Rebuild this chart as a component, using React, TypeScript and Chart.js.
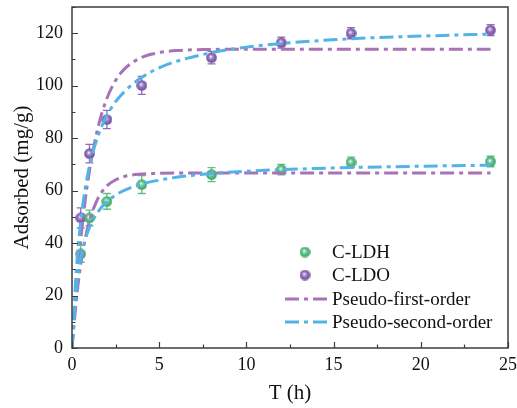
import React, { useEffect, useRef } from 'react';
import { Chart, registerables } from 'chart.js';

Chart.register(...registerables);

// Experimental data
const times = [0.5, 1, 2, 4, 8, 12, 16, 24];
const ldhValues = [35.9, 49.6, 55.9, 62.3, 66.1, 68.0, 70.8, 71.1];
const ldhErrors = [3.2, 3.0, 3.0, 3.4, 2.7, 2.0, 2.0, 2.0];
const ldoValues = [49.6, 74.1, 87.1, 100.1, 110.7, 116.4, 120.0, 121.2];
const ldoErrors = [3.8, 3.5, 3.5, 3.4, 2.4, 2.1, 2.1, 2.1];

// Fitted curves
const fitTimes = [0, 0.25, 0.5, 0.75, 1, 1.5, 2, 2.5, 3, 4, 5, 6, 8, 10, 12, 16, 20, 24];
const pfoLDO = [0, 22.9, 41.2, 55.9, 67.5, 84.4, 95.1, 102.0, 106.3, 110.8, 112.6, 113.4, 113.8, 113.9, 113.9, 113.9, 113.9, 113.9];
const pfoLDH = [0, 18.5, 31.9, 41.5, 48.5, 57.2, 61.8, 64.1, 65.4, 66.3, 66.6, 66.7, 66.7, 66.7, 66.7, 66.7, 66.7, 66.7];
const psoLDO = [0, 30.0, 48.2, 60.5, 69.3, 81.1, 88.6, 93.9, 97.7, 103.2, 106.8, 109.3, 112.6, 114.7, 116.1, 117.9, 118.9, 119.7];
const psoLDH = [0, 22.3, 33.9, 41.1, 45.9, 52.0, 55.8, 58.3, 60.1, 62.5, 64.0, 65.1, 66.5, 67.4, 68.0, 68.8, 69.3, 69.7];

const xTicks = [0, 5, 10, 15, 20, 25];
const yTicks = [0, 20, 40, 60, 80, 100, 120];

const legendLabels = ['C-LDH', 'C-LDO', 'Pseudo-first-order', 'Pseudo-second-order'];

const GREEN = '#5cc088';
const GREEN_LIGHT = '#a8e0bf';
const GREEN_DARK = '#3f9f69';
const PURPLE = '#8f6dba';
const PURPLE_LIGHT = '#c4aedd';
const PURPLE_DARK = '#6c4e9a';
const PFO_COLOR = '#a873b6';
const PSO_COLOR = '#52b3e6';
const FRAME = '#3c3c3c';
const DASH = [14, 5, 4, 5];
const FONT = "'Liberation Serif', 'Times New Roman', serif";

function sphere(base: string, light: string, dark: string, size = 11): HTMLCanvasElement {
  const c = document.createElement('canvas');
  c.width = size;
  c.height = size;
  const g = c.getContext('2d')!;
  const r = size / 2;
  const grad = g.createRadialGradient(r * 0.85, r * 0.8, 0.2, r, r, r);
  grad.addColorStop(0, '#ffffff');
  grad.addColorStop(0.18, light);
  grad.addColorStop(0.5, base);
  grad.addColorStop(1, dark);
  g.fillStyle = grad;
  g.beginPath();
  g.arc(r, r, r - 0.2, 0, Math.PI * 2);
  g.fill();
  return c;
}

function toXY(xs: number[], ys: number[]) {
  return xs.map((x, i) => ({ x, y: ys[i] }));
}

export default function App() {
  const ref = useRef<HTMLCanvasElement | null>(null);

  useEffect(() => {
    document.body.style.margin = '0';
    const canvas = ref.current;
    if (!canvas) return;
    const greenBall = sphere(GREEN, GREEN_LIGHT, GREEN_DARK);
    const purpleBall = sphere(PURPLE, PURPLE_LIGHT, PURPLE_DARK);

    const errorBars = {
      id: 'errorBars',
      beforeDatasetsDraw(chart: any) {
        const ctx = chart.ctx;
        const xs = chart.scales.x;
        const ys = chart.scales.y;
        const sets = [
          { v: ldhValues, e: ldhErrors, c: GREEN },
          { v: ldoValues, e: ldoErrors, c: PURPLE },
        ];
        ctx.save();
        ctx.lineWidth = 1.3;
        sets.forEach((s) => {
          ctx.strokeStyle = s.c;
          times.forEach((t, i) => {
            const px = xs.getPixelForValue(t);
            const y1 = ys.getPixelForValue(s.v[i] - s.e[i]);
            const y2 = ys.getPixelForValue(s.v[i] + s.e[i]);
            ctx.beginPath();
            ctx.moveTo(px, y1);
            ctx.lineTo(px, y2);
            ctx.moveTo(px - 4, y1);
            ctx.lineTo(px + 4, y1);
            ctx.moveTo(px - 4, y2);
            ctx.lineTo(px + 4, y2);
            ctx.stroke();
          });
        });
        ctx.restore();
      },
    };

    const frameAndLegend = {
      id: 'frameAndLegend',
      afterDraw(chart: any) {
        const ctx = chart.ctx;
        const a = chart.chartArea;
        const xs = chart.scales.x;
        const ys = chart.scales.y;
        ctx.save();
        ctx.strokeStyle = FRAME;
        ctx.lineWidth = 1.5;
        ctx.strokeRect(a.left, a.top, a.right - a.left, a.bottom - a.top);
        ctx.lineWidth = 1.2;
        ctx.beginPath();
        for (let v = 0; v <= 25.001; v += 2.5) {
          const px = Math.round(xs.getPixelForValue(v)) + 0.5;
          const major = Math.abs(v / 5 - Math.round(v / 5)) < 1e-6;
          const len = major ? 6 : 3.5;
          ctx.moveTo(px, a.bottom);
          ctx.lineTo(px, a.bottom - len);
        }
        for (let v = 0; v <= 130.001; v += 10) {
          const py = Math.round(ys.getPixelForValue(v)) + 0.5;
          const major = v % 20 === 0;
          const len = major ? 6 : 3.5;
          ctx.moveTo(a.left, py);
          ctx.lineTo(a.left + len, py);
        }
        ctx.stroke();

        // legend
        const rows = [252, 275, 299, 322];
        const textX = 332;
        ctx.font = `19px ${FONT}`;
        ctx.fillStyle = '#111';
        ctx.textAlign = 'left';
        ctx.textBaseline = 'middle';
        ctx.drawImage(greenBall, 305 - 5.5, rows[0] - 5.5);
        ctx.drawImage(purpleBall, 305 - 5.5, rows[1] - 5.5);
        [PFO_COLOR, PSO_COLOR].forEach((col, i) => {
          ctx.strokeStyle = col;
          ctx.lineWidth = 3;
          ctx.setLineDash(DASH);
          ctx.beginPath();
          ctx.moveTo(285, rows[2 + i]);
          ctx.lineTo(327, rows[2 + i]);
          ctx.stroke();
        });
        ctx.setLineDash([]);
        legendLabels.forEach((label, i) => {
          ctx.fillText(label, textX, rows[i] + 1);
        });
        ctx.restore();
      },
    };

    const lineSet = (label: string, ys: number[], color: string, order: number) => ({
      label,
      data: toXY(fitTimes, ys),
      showLine: true,
      borderColor: color,
      borderWidth: 3,
      borderDash: DASH,
      pointRadius: 0,
      cubicInterpolationMode: 'monotone',
      order,
    });

    const chart = new Chart(canvas, {
      type: 'scatter',
      data: {
        datasets: [
          {
            label: legendLabels[0],
            data: toXY(times, ldhValues),
            pointStyle: greenBall as any,
            showLine: false,
            order: 2,
          },
          {
            label: legendLabels[1],
            data: toXY(times, ldoValues),
            pointStyle: purpleBall as any,
            showLine: false,
            order: 2,
          },
          lineSet(legendLabels[2] + ' LDH', pfoLDH, PFO_COLOR, 1),
          lineSet(legendLabels[2] + ' LDO', pfoLDO, PFO_COLOR, 1),
          lineSet(legendLabels[3] + ' LDH', psoLDH, PSO_COLOR, 0),
          lineSet(legendLabels[3] + ' LDO', psoLDO, PSO_COLOR, 0),
        ],
      },
      options: {
        animation: false,
        responsive: false,
        layout: { padding: { top: 7, right: 9, left: 0, bottom: 0 } },
        plugins: {
          legend: { display: false },
          tooltip: { enabled: false },
        },
        scales: {
          x: {
            type: 'linear',
            min: 0,
            max: 25,
            afterFit: (s: any) => {
              s.height = 60;
              s.paddingLeft = 0;
              s.paddingRight = 0;
              s.paddingTop = 0;
              s.paddingBottom = 0;
            },
            afterBuildTicks: (s: any) => {
              s.ticks = xTicks.map((v) => ({ value: v }));
            },
            grid: { display: false, drawTicks: false },
            border: { display: false },
            ticks: {
              font: { family: FONT, size: 18 },
              color: '#111',
              padding: 6,
              maxRotation: 0,
            },
            title: {
              display: true,
              text: 'T (h)',
              font: { family: FONT, size: 21 },
              color: '#111',
              padding: { top: 0, bottom: 2.4 },
            },
          },
          y: {
            type: 'linear',
            min: 0,
            max: 130,
            afterFit: (s: any) => {
              s.width = 72;
              s.paddingLeft = 0;
              s.paddingRight = 0;
              s.paddingTop = 0;
              s.paddingBottom = 0;
            },
            afterBuildTicks: (s: any) => {
              s.ticks = yTicks.map((v) => ({ value: v }));
            },
            grid: { display: false, drawTicks: false },
            border: { display: false },
            ticks: {
              font: { family: FONT, size: 18 },
              color: '#111',
              padding: 9,
            },
            title: {
              display: true,
              text: 'Adsorbed (mg/g)',
              font: { family: FONT, size: 21 },
              color: '#111',
              padding: { top: 9.4, bottom: 0 },
            },
          },
        },
      },
      plugins: [errorBars, frameAndLegend],
    } as any);

    return () => chart.destroy();
  }, []);

  return (
    <div style={{ width: 517, height: 408 }}>
      <canvas ref={ref} width={517} height={408} style={{ display: 'block' }} />
    </div>
  );
}
